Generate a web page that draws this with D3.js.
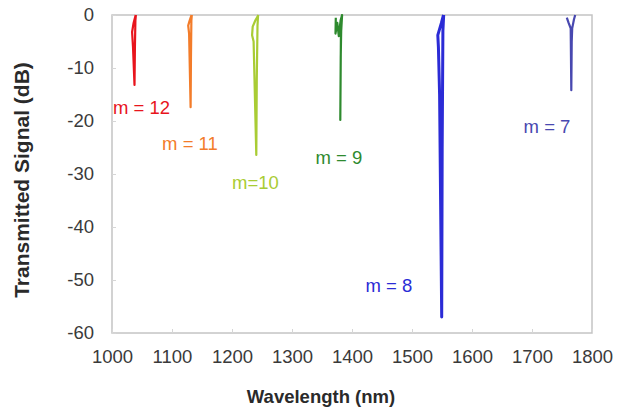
<!DOCTYPE html>
<html>
<head>
<meta charset="utf-8">
<script src="https://cdn.jsdelivr.net/npm/d3@7"></script>
<style>
  body { margin: 0; background: #fff; }
  text { font-family: Arial, "Liberation Sans", sans-serif; }
</style>
</head>
<body>
<svg id="vis" width="618" height="413"></svg>
<script>
// resonance dips, [wavelength nm, transmitted dB]
var m12 = [[1039.5, 0], [1036, -1.5], [1033.5, -3.2], [1035, -6], [1037.5, -13.2], [1038.2, -6], [1039, -1], [1039.8, 0]];
var m11 = [[1132.5, 0], [1129, -1.2], [1127, -2], [1128.5, -3.5], [1131, -17.4], [1131.6, -8], [1132.3, -1], [1133, 0]];
var m10 = [[1244, 0], [1239, -1], [1234.5, -2.2], [1233.5, -3.8], [1236, -5], [1240.5, -26.4], [1241.3, -12], [1242.5, -2], [1243.5, 0]];
var m9 = [[1373, -0.5], [1372.5, -3.5], [1375.5, -1.5], [1378, -4], [1381, -1], [1383.5, 0], [1381.5, -4], [1380.5, -19.8], [1381.2, -8], [1382.3, -1], [1383.5, 0]];
var m8 = [[1552.5, 0], [1549, -1.5], [1543, -3.8], [1544, -6], [1546, -15], [1549.5, -57], [1550.3, -25], [1551.5, -3], [1552.8, 0]];
var m7 = [[1758, -0.5], [1761, -1.5], [1764.5, -2.5], [1765.5, -14.2], [1766.2, -5], [1767, -2.5], [1770, -0.8], [1772, 0]];

var seriesNames = ["m = 12", "m = 11", "m=10", "m = 9", "m = 8", "m = 7"];
var seriesData = [m12, m11, m10, m9, m8, m7];
// label anchors (left edge, middle) in data units
var labelAt = [[1001.7, -17.4], [1083.5, -24.2], [1200, -31.7], [1339, -26.8], [1422.4, -51.1], [1686, -21.1]];

var xTicks = [1000, 1100, 1200, 1300, 1400, 1500, 1600, 1700, 1800];
var yTicks = [0, -10, -20, -30, -40, -50, -60];

const colors = ["#e8141c", "#f37c2a", "#a9cc34", "#2e8a2e", "#2b2bd6", "#4848b0"];

var svg = d3.select("svg#vis");
var margin = {top: 15, left: 112, right: 26, bottom: 80};
var w = 618 - margin.left - margin.right;
var h = 413 - margin.top - margin.bottom;

var x = d3.scaleLinear().domain([1000, 1800]).range([0, w]);
var y = d3.scaleLinear().domain([-60, 0]).range([h, 0]);

var g = svg.append("g").attr("transform", translate(margin.left, margin.top));

// frame
g.append("rect")
  .attr("x", 0).attr("y", 0)
  .attr("width", w).attr("height", h)
  .attr("fill", "none")
  .attr("stroke", "#c4c4c4")
  .attr("stroke-width", 1.5);

// x axis
var xAxis = g.append("g")
  .attr("transform", translate(0, h))
  .call(d3.axisBottom(x).tickValues(xTicks).tickFormat(d => String(d))
    .tickSizeInner(-4).tickSizeOuter(0).tickPadding(17));
xAxis.select(".domain").remove();
xAxis.selectAll("line").attr("stroke", "#d6d6d6");
xAxis.selectAll("text")
  .attr("font-size", "18.5px")
  .attr("fill", "#3a3a3a");

// y axis
var yAxis = g.append("g")
  .call(d3.axisLeft(y).tickValues(yTicks).tickFormat(d => String(d))
    .tickSizeInner(-4).tickSizeOuter(0).tickPadding(18));
yAxis.select(".domain").remove();
yAxis.selectAll("line").attr("stroke", "#d6d6d6");
yAxis.selectAll("text")
  .attr("font-size", "18.5px")
  .attr("fill", "#3a3a3a");

// titles
svg.append("text")
  .attr("x", 321)
  .attr("y", 403)
  .attr("text-anchor", "middle")
  .attr("font-size", "18.5px")
  .attr("font-weight", "bold")
  .attr("fill", "#2a2a2a")
  .text("Wavelength (nm)");

svg.append("text")
  .attr("transform", "translate(29,180) rotate(-90)")
  .attr("text-anchor", "middle")
  .attr("font-size", "21px")
  .attr("font-weight", "bold")
  .attr("fill", "#2a2a2a")
  .text("Transmitted Signal (dB)");

// dips
var line = d3.line()
  .x(d => x(d[0]))
  .y(d => y(d[1]));

g.selectAll("path.dip")
  .data(seriesData)
  .enter()
  .append("path")
  .attr("class", "dip")
  .attr("d", line)
  .attr("fill", "none")
  .attr("stroke", (d, i) => colors[i])
  .attr("stroke-width", (d, i) => i == 4 ? 3 : 2.2)
  .attr("stroke-linejoin", "round");

// labels
g.selectAll("text.mlabel")
  .data(seriesNames)
  .enter()
  .append("text")
  .attr("class", "mlabel")
  .attr("x", (d, i) => x(labelAt[i][0]))
  .attr("y", (d, i) => y(labelAt[i][1]))
  .attr("dy", "0.35em")
  .attr("font-size", "18.5px")
  .attr("fill", (d, i) => colors[i])
  .text(d => d);

function translate(x, y) {
  return "translate(" + String(x) + "," + String(y) + ")";
}
</script>
</body>
</html>
